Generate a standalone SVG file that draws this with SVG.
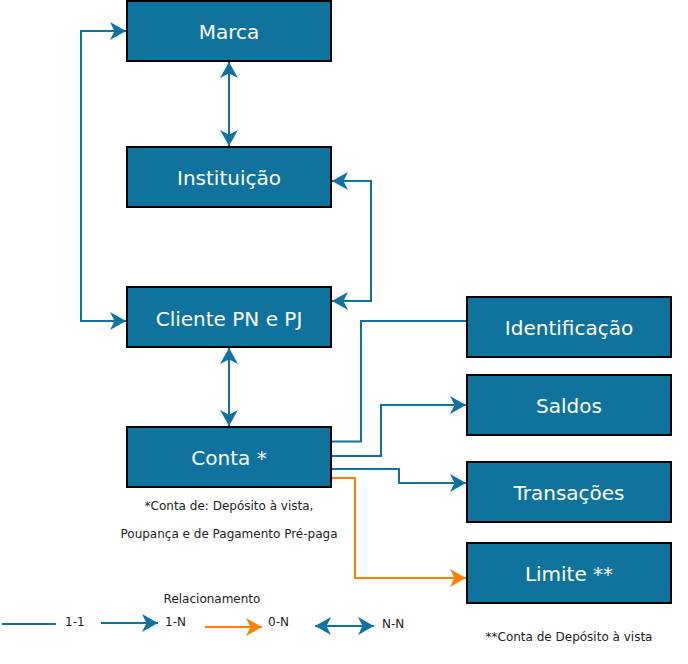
<svg xmlns="http://www.w3.org/2000/svg" width="688" height="664" viewBox="0 0 688 664">
<style>
.box rect{fill:#10739E;stroke:#000;stroke-width:2}
.box text{fill:#fff;font-family:"DejaVu Sans",Verdana,sans-serif;font-size:20px;text-anchor:middle}
.c{fill:none;stroke:#10739E;stroke-width:2}
.o{fill:none;stroke:#FF8000;stroke-width:2}
.t{fill:#222;font-family:"DejaVu Sans",Verdana,sans-serif;font-size:12px}
</style>
<defs>
<marker id="ab" markerUnits="userSpaceOnUse" markerWidth="17" markerHeight="18" refX="16" refY="9" orient="auto-start-reverse" viewBox="0 0 17 18">
<path d="M0,0 L16,9 L0,18 L4.5,9 Z" fill="#10739E"/>
</marker>
<marker id="ao" markerUnits="userSpaceOnUse" markerWidth="17" markerHeight="18" refX="16" refY="9" orient="auto-start-reverse" viewBox="0 0 17 18">
<path d="M0,0 L16,9 L0,18 L4.5,9 Z" fill="#FF8000"/>
</marker>
</defs>
<g id="connectors">
<path class="c" d="M229,62 V146" marker-start="url(#ab)" marker-end="url(#ab)"/>
<path class="c" d="M126,31 H81 V321 H126" marker-start="url(#ab)" marker-end="url(#ab)"/>
<path class="c" d="M332,181 H371 V301 H332" marker-start="url(#ab)" marker-end="url(#ab)"/>
<path class="c" d="M229,348 V426" marker-start="url(#ab)" marker-end="url(#ab)"/>
<path class="c" d="M332,441.5 H361 V321 H467"/>
<path class="c" d="M332,456 H381 V405 H466" marker-end="url(#ab)"/>
<path class="c" d="M332,469 H399 V483 H466" marker-end="url(#ab)"/>
<path class="o" d="M332,478 H355 V578 H466" marker-end="url(#ao)"/>
</g>
<g id="marca" class="box"><rect x="127" y="1" width="204" height="60"/><text x="229" y="39">Marca</text></g>
<g id="instituicao" class="box"><rect x="127" y="147" width="204" height="60"/><text x="229" y="185">Instituição</text></g>
<g id="cliente" class="box"><rect x="127" y="287" width="204" height="60"/><text x="229" y="326">Cliente PN e PJ</text></g>
<g id="conta" class="box"><rect x="127" y="427" width="204" height="60"/><text x="229" y="465">Conta *</text></g>
<g id="identificacao" class="box"><rect x="467" y="297" width="204" height="60"/><text x="569" y="335">Identificação</text></g>
<g id="saldos" class="box"><rect x="467" y="375" width="204" height="60"/><text x="569" y="413">Saldos</text></g>
<g id="transacoes" class="box"><rect x="467" y="462" width="204" height="60"/><text x="569" y="500">Transações</text></g>
<g id="limite" class="box"><rect x="467" y="543" width="204" height="60"/><text x="569" y="581">Limite **</text></g>
<g id="notes">
<text class="t" x="229" y="510" text-anchor="middle">*Conta de: Depósito à vista,</text>
<text class="t" x="229" y="538" text-anchor="middle">Poupança e de Pagamento Pré-paga</text>
<text class="t" x="569" y="641" text-anchor="middle">**Conta de Depósito à vista</text>
</g>
<g id="legend">
<text class="t" x="212" y="603" text-anchor="middle">Relacionamento</text>
<path class="c" d="M2,624 H56"/>
<text class="t" x="65" y="626">1-1</text>
<path class="c" d="M101,623 H158" marker-end="url(#ab)"/>
<text class="t" x="165" y="626">1-N</text>
<path class="o" d="M205,627 H262" marker-end="url(#ao)"/>
<text class="t" x="268" y="626">0-N</text>
<path class="c" d="M315,626 H374" marker-start="url(#ab)" marker-end="url(#ab)"/>
<text class="t" x="382" y="628">N-N</text>
</g>
</svg>
